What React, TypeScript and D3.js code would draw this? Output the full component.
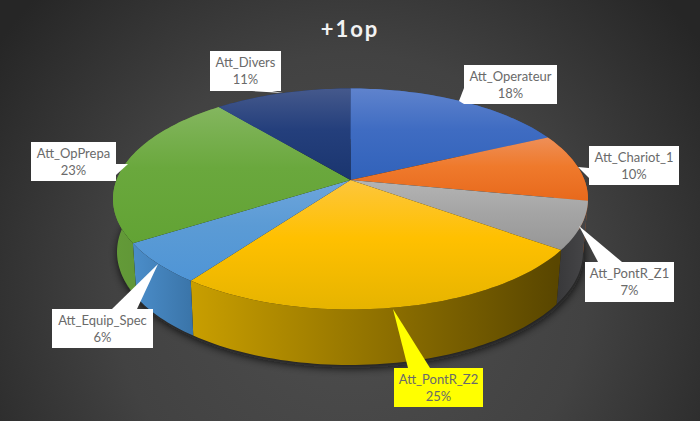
import React from "react";
import * as d3 from "d3";

const categories = ["Att_Operateur", "Att_Chariot_1", "Att_PontR_Z1", "Att_PontR_Z2", "Att_Equip_Spec", "Att_OpPrepa", "Att_Divers"];
const values = [18, 10, 7, 25, 6, 23, 11];
const chartTitle = "+1op";

const topLight = ["#5f83cd", "#ee8f58", "#b4b4b4", "#fdc63c", "#6da5dc", "#84b65f", "#45598c"];
const topMid = ["#3f6cc2", "#ef7a2c", "#a5a5a5", "#ffc000", "#5b9bd5", "#6aa83d", "#243f7c"];
const topDark = ["#3162ba", "#e8691c", "#969696", "#e6b400", "#4f95d6", "#62a334", "#1a356f"];
const wallLeft = ["#2d5aa8", "#c85a18", "#38383a", "#c89e00", "#4a8cc8", "#639a38", "#1a356f"];
const wallRight = ["#2d5aa8", "#c85a18", "#444446", "#594600", "#3a74a8", "#598a32", "#1a356f"];

const labelBoxes = [
  { x: 464, y: 65, w: 93, h: 39, tip: [459, 101], base: [[464, 88], [464, 104]] },
  { x: 589, y: 146, w: 90, h: 39, tip: [578, 167], base: [[589, 168], [589, 178]] },
  { x: 585, y: 262, w: 89, h: 40, tip: [579, 226], base: [[598, 262], [622, 262]] },
  { x: 394, y: 368, w: 89, h: 39, tip: [393, 309], base: [[408, 368], [430, 368]] },
  { x: 52, y: 309, w: 101, h: 39, tip: [158, 264], base: [[112, 309], [137, 309]] },
  { x: 31, y: 142, w: 85, h: 39, tip: [128, 164], base: [[116, 164], [116, 175]] },
  { x: 210, y: 51, w: 71, h: 40, tip: [283, 93], base: [[252, 91], [272, 91]] },
];
const labelFill = ["#ffffff", "#ffffff", "#ffffff", "#ffff00", "#ffffff", "#ffffff", "#ffffff"];

const W = 700, H = 421;
const top = { cx: 350.5, cy: 199, rx: 237.5, ry: 110.5 };
const bottom = { cx: 350, cy: 252, rx: 233, ry: 113 };
const k = -0.172; // perspective: moves the circle's centre up to the pie's apex

function project(e: typeof top, angle: number): [number, number] {
  const u = Math.sin(angle), v = -Math.cos(angle);
  const d = 1 + k * v;
  return [e.cx + (e.rx * u * Math.sqrt(1 - k * k)) / d, e.cy + (e.ry * (v + k)) / d];
}

const pieLayout = d3.pie<number>().sort(null)(values);
const line = d3.line();

function rim(e: typeof top, a0: number, a1: number) {
  const n = Math.max(4, Math.ceil((a1 - a0) * 40));
  return d3.range(n + 1).map((i) => project(e, a0 + ((a1 - a0) * i) / n));
}

export default function App() {
  const centre: [number, number] = [top.cx, top.cy + top.ry * k];
  return (
    <svg width={W} height={H} style={{ position: "absolute", left: 0, top: 0 }} fontFamily="Lato, sans-serif">
      <defs>
        <radialGradient id="bg" gradientUnits="userSpaceOnUse" cx={350} cy={290} r={430}>
          <stop offset="0" stopColor="#4e4e4e" />
          <stop offset="0.55" stopColor="#424242" />
          <stop offset="1" stopColor="#262626" />
        </radialGradient>
        <filter id="shadow" x="-20%" y="-20%" width="140%" height="140%">
          <feGaussianBlur stdDeviation="4" />
        </filter>
        {pieLayout.map((s, i) => {
          const pts = rim(top, s.startAngle, s.endAngle).concat([centre]);
          const ys = pts.map((p) => p[1]);
          const botPts = rim(bottom, s.startAngle, s.endAngle);
          const xs = botPts.map((p) => p[0]);
          return (
            <React.Fragment key={i}>
              <linearGradient id={`top${i}`} gradientUnits="userSpaceOnUse" x1={0} x2={0} y1={d3.min(ys)} y2={d3.max(ys)}>
                <stop offset="0" stopColor={topLight[i]} />
                <stop offset="0.45" stopColor={topMid[i]} />
                <stop offset="1" stopColor={topDark[i]} />
              </linearGradient>
              <linearGradient id={`wall${i}`} gradientUnits="userSpaceOnUse" y1={0} y2={0} x1={d3.min(xs)} x2={d3.max(xs)}>
                <stop offset="0" stopColor={wallLeft[i]} />
                <stop offset="1" stopColor={wallRight[i]} />
              </linearGradient>
            </React.Fragment>
          );
        })}
      </defs>
      <rect width={W} height={H} fill="url(#bg)" />
      <text x={350} y={37} textAnchor="middle" fontFamily="Lato, sans-serif" fontWeight={700} fontSize={22} letterSpacing={2} fill="#f2f2f2">
        {chartTitle}
      </text>
      <path
        d={line(rim({ ...bottom, cy: bottom.cy + 3, cx: bottom.cx + 1 }, 0, Math.PI * 2))! + "Z"}
        fill="#0c0c0c"
        opacity={0.85}
        filter="url(#shadow)"
      />
      {pieLayout.map((s, i) => {
        const a = rim(top, s.startAngle, s.endAngle);
        const b = rim(bottom, s.startAngle, s.endAngle).reverse();
        return <path key={i} d={line(a.concat(b))! + "Z"} fill={`url(#wall${i})`} />;
      })}
      {pieLayout.map((s, i) => (
        <path key={i} d={line([centre, ...rim(top, s.startAngle, s.endAngle)])! + "Z"} fill={`url(#top${i})`} />
      ))}
      {labelBoxes.map((b, i) => (
        <g key={i}>
          <polygon points={[b.tip, ...b.base].map((p) => p.join(",")).join(" ")} fill={labelFill[i]} />
          <rect x={b.x} y={b.y} width={b.w} height={b.h} fill={labelFill[i]} />
          <text x={b.x + b.w / 2} textAnchor="middle" fontSize={13} fill="#6a6a6a">
            <tspan x={b.x + b.w / 2} y={b.y + 16}>{categories[i]}</tspan>
            <tspan x={b.x + b.w / 2} y={b.y + 33}>{values[i]}%</tspan>
          </text>
        </g>
      ))}
    </svg>
  );
}
